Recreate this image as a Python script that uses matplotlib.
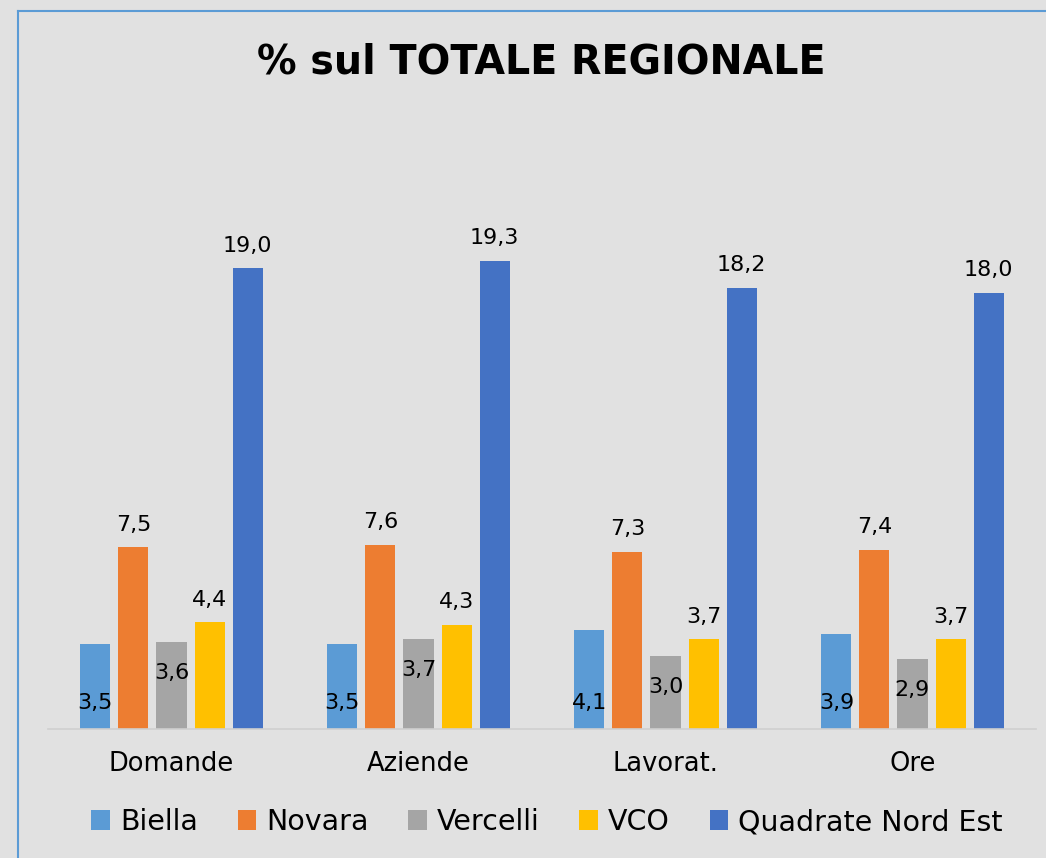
import numpy as np
import matplotlib
matplotlib.use('Agg')
import matplotlib.pyplot as plt
from matplotlib.lines import Line2D

categories = ['Domande', 'Aziende', 'Lavorat.', 'Ore']
series = ['Biella', 'Novara', 'Vercelli', 'VCO', 'Quadrate Nord Est']
biella = [3.5, 3.5, 4.1, 3.9]
novara = [7.5, 7.6, 7.3, 7.4]
vercelli = [3.6, 3.7, 3.0, 2.9]
vco = [4.4, 4.3, 3.7, 3.7]
quadrate = [19.0, 19.3, 18.2, 18.0]
values = [biella, novara, vercelli, vco, quadrate]
colors = ['#5B9BD5', '#ED7D31', '#A5A5A5', '#FFC000', '#4472C4']

bg = '#e1e1e1'
plt.rcParams['font.family'] = ['DejaVu Sans']

fig = plt.figure(figsize=(10.46, 8.58), dpi=100, facecolor=bg)
ax = fig.add_axes([48 / 1046, 129 / 858, 988 / 1046, 485 / 858])
ax.set_facecolor(bg)

x = np.arange(len(categories))
width = 0.1215
step = 0.154

def fmt(v):
    return ('%.1f' % v).replace('.', ',')

for i, (name, vals, c) in enumerate(zip(series, values, colors)):
    pos = x + (i - 2) * step
    bars = ax.bar(pos, vals, width, color=c, label=name, zorder=2)
    for b, v in zip(bars, vals):
        cx = b.get_x() + b.get_width() / 2
        if name == 'Biella':
            # label sits near the base of the bar
            ax.annotate(fmt(v), (cx, 0), xytext=(0, 19), textcoords='offset points',
                        ha='center', va='center', fontsize=16)
        elif name == 'Vercelli':
            ax.annotate(fmt(v), (cx, v), xytext=(0, -15), textcoords='offset points',
                        ha='center', va='top', fontsize=16)
        else:
            ax.annotate(fmt(v), (cx, v), xytext=(0, 9), textcoords='offset points',
                        ha='center', va='bottom', fontsize=16)

ax.set_xlim(-0.5, 3.5)
ax.set_ylim(0, 20)
ax.set_xticks(x)
ax.set_xticklabels(categories, fontsize=18.5)
ax.tick_params(axis='x', length=0, pad=16)
ax.set_yticks([])
for s in ['top', 'right', 'left']:
    ax.spines[s].set_visible(False)
ax.spines['bottom'].set_color('#cfcfcf')
ax.spines['bottom'].set_linewidth(1.2)

fig.text(541 / 1046, 1 - 62 / 858, '% sul TOTALE REGIONALE', ha='center', va='center',
         fontsize=28.5, fontweight='bold')

fig.legend(loc='center', bbox_to_anchor=(547 / 1046, 1 - 822 / 858), ncol=5,
           frameon=False, fontsize=20.5, handlelength=0.65, handleheight=0.65,
           handletextpad=0.35, columnspacing=1.4)

# blue frame on the left and top
fig.add_artist(Line2D([18 / 1046, 18 / 1046], [0, 1 - 11 / 858], color='#5B9BD5', lw=1.5))
fig.add_artist(Line2D([18 / 1046, 1], [1 - 11 / 858, 1 - 11 / 858], color='#5B9BD5', lw=1.5))

fig.savefig('out.png', dpi=100, facecolor=bg)
